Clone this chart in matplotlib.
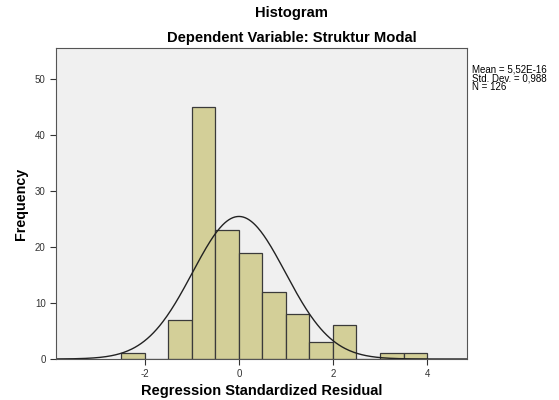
import numpy as np
import matplotlib.pyplot as plt

plt.rcParams['font.family'] = ['Liberation Sans', 'DejaVu Sans']
plt.rcParams['axes.unicode_minus'] = False

# Frekuensi per bin (lebar 0,5)
bin_edges = [-2.5, -2.0, -1.5, -1.0, -0.5, 0.0, 0.5, 1.0, 1.5, 2.0, 2.5, 3.0, 3.5, 4.0]
frekuensi = [1, 0, 7, 45, 23, 19, 12, 8, 3, 6, 0, 1, 1]

mean = 5.52e-16
std = 0.988
n = 126
lebar_bin = 0.5

fig = plt.figure(figsize=(5.59, 4.0), dpi=100)
ax = fig.add_axes([0.1002, 0.1025, 0.7352, 0.7775])
ax.set_facecolor('#f0f0f0')

kiri = bin_edges[:-1]
lebar = np.diff(bin_edges)
ax.bar(kiri, frekuensi, width=lebar, align='edge', color='#d3cf98',
       edgecolor='#3a3a3a', linewidth=0.9)

# Kurva normal
xs = np.linspace(-3.9, 4.85, 400)
ys = n * lebar_bin * np.exp(-0.5 * ((xs - mean) / std) ** 2) / (std * np.sqrt(2 * np.pi))
ax.plot(xs, ys, color='#222222', linewidth=1.0)

ax.set_xlim(-3.89, 4.85)
ax.set_ylim(0, 55.5)
ax.set_xticks([-2, 0, 2, 4])
ax.set_yticks([0, 10, 20, 30, 40, 50])
ax.tick_params(direction='out', length=4, width=0.8, labelsize=7, colors='#333333')

for s in ax.spines.values():
    s.set_color('#555555')
    s.set_linewidth(0.8)

ax.set_xlabel('Regression Standardized Residual', fontsize=10.5, fontweight='bold', labelpad=3)
ax.set_ylabel('Frequency', fontsize=10.3, fontweight='bold', labelpad=5)

fig.text(0.522, 0.968, 'Histogram', ha='center', va='center', fontsize=10.6, fontweight='bold')
fig.text(0.522, 0.906, 'Dependent Variable: Struktur Modal', ha='center', va='center',
         fontsize=10.6, fontweight='bold')

fig.text(0.845, 0.84, 'Mean = 5,52E-16\nStd. Dev. = 0,988\nN = 126', ha='left', va='top',
         fontsize=7.0, linespacing=0.88)

fig.savefig('out.png', dpi=100)
